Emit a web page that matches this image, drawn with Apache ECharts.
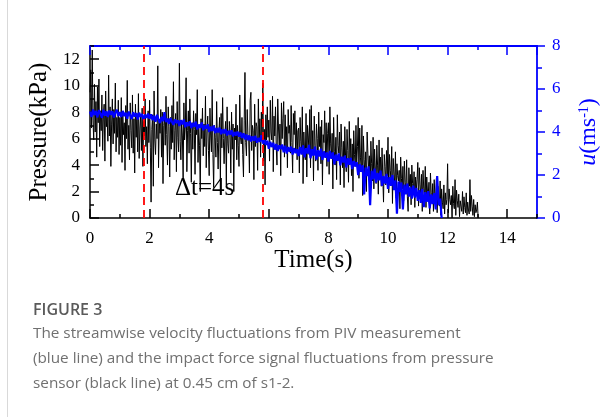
<!DOCTYPE html>
<html>
<head>
<meta charset="utf-8">
<script src="https://cdn.jsdelivr.net/npm/echarts@6/dist/echarts.min.js"></script>
<style>
html,body{margin:0;padding:0;background:#fff;}
#chart{width:614px;height:417px;}
</style>
</head>
<body>
<div id="chart"></div>
<script>
// Sampling intervals (s)
const pressureStep = 0.025;
const velocityStep = 0.05;
// Pressure sensor signal (kPa), black line, from t = 0 s (one row per second)
const pressure = [
  9.5, 11.2, 6.8, 12.7, 7.4, 5.9, 10.1, 6.5, 8.8, 4.6, 9.9, 7.2, 10.5, 5.4, 8.1, 6.6, 9.3, 5.1, 7.8, 8.6, 4.3, 9.6, 6.9, 7.7, 5.8, 10.8, 6.2, 8.4, 3.9, 7.1, 9.0, 5.6, 8.2, 6.4, 10.2, 5.0, 7.6, 6.1, 8.9, 4.8,
  7.6, 5.5, 9.1, 4.2, 8.0, 6.3, 7.2, 3.6, 8.5, 6.0, 10.4, 5.2, 7.0, 4.4, 8.7, 6.6, 5.3, 9.3, 4.9, 7.5, 3.4, 8.6, 6.1, 7.9, 5.0, 9.4, 4.5, 6.8, 7.7, 5.1, 8.3, 3.9, 7.3, 6.2, 9.0, 5.4, 6.9, 4.1, 8.1, 5.7,
  8.9, 5.3, 1.2, 6.7, 7.8, 2.4, 9.6, 5.9, 4.8, 7.1, 6.0, 11.5, 3.8, 7.4, 6.4, 8.2, 4.6, 8.0, 2.6, 7.0, 7.7, 5.5, 9.2, 6.3, 4.0, 8.4, 6.9, 3.1, 7.6, 5.2, 8.5, 5.7, 10.3, 4.4, 6.6, 7.9, 3.5, 8.8, 6.1, 5.0,
  11.7, 5.8, 4.4, 7.4, 6.2, 3.0, 8.7, 5.9, 7.0, 10.6, 3.5, 6.6, 8.1, 4.9, 9.0, 6.4, 2.7, 7.2, 5.2, 8.1, 6.7, 3.3, 7.9, 6.3, 9.7, 4.2, 6.8, 5.5, 2.0, 7.5, 6.0, 8.3, 4.7, 7.1, 5.4, 9.2, 3.8, 6.5, 7.7, 5.1,
  3.2, 8.3, 6.2, 5.0, 9.7, 4.8, 2.3, 7.0, 6.1, 4.6, 8.8, 5.7, 3.7, 6.5, 7.6, 2.8, 7.9, 5.3, 9.1, 6.0, 4.1, 6.2, 7.3, 2.5, 8.4, 5.6, 4.9, 7.3, 6.4, 3.4, 8.0, 5.2, 7.1, 2.0, 6.8, 5.9, 8.6, 4.4, 7.0, 5.5,
  3.9, 9.3, 6.1, 5.6, 7.6, 4.8, 3.1, 7.4, 11.0, 5.7, 4.7, 8.2, 6.3, 6.0, 3.4, 8.9, 9.5, 5.1, 7.0, 6.6, 2.9, 8.6, 5.4, 7.2, 6.9, 3.6, 9.0, 5.8, 7.5, 4.6, 8.0, 6.2, 10.2, 4.3, 6.7, 2.5, 7.8, 5.9, 8.4, 6.1,
  7.4, 4.3, 8.9, 6.5, 5.9, 9.2, 3.5, 7.7, 6.2, 8.4, 5.3, 4.0, 9.0, 6.8, 5.5, 7.1, 3.2, 8.7, 6.0, 7.5, 8.8, 4.6, 7.8, 5.2, 6.9, 3.8, 8.2, 6.4, 7.0, 4.9, 8.5, 5.7, 3.4, 7.9, 6.3, 8.1, 5.0, 7.2, 4.4, 6.6,
  6.8, 3.4, 7.6, 5.8, 4.9, 8.4, 2.6, 6.5, 5.1, 4.4, 7.9, 3.1, 7.0, 6.2, 4.8, 8.2, 3.8, 8.5, 5.2, 6.6, 2.8, 7.7, 5.5, 4.3, 7.1, 6.0, 3.6, 8.0, 5.4, 6.9, 4.1, 7.4, 2.5, 6.3, 5.7, 8.1, 4.6, 7.2, 3.9, 6.4,
  7.2, 3.3, 8.4, 5.6, 4.5, 6.4, 2.2, 7.6, 5.0, 4.0, 6.1, 2.9, 7.8, 5.5, 4.9, 6.5, 2.5, 7.1, 5.3, 3.8, 5.8, 2.3, 6.9, 4.7, 3.5, 6.7, 5.1, 2.7, 7.3, 4.4, 6.0, 3.2, 5.6, 2.0, 6.6, 4.8, 3.9, 7.0, 4.2, 5.4,
  7.6, 3.0, 6.8, 4.6, 3.8, 7.0, 1.7, 6.2, 4.4, 3.3, 5.0, 2.0, 6.5, 4.9, 3.6, 4.7, 1.4, 5.8, 4.1, 2.8, 6.1, 2.2, 5.2, 3.7, 2.6, 5.5, 4.0, 1.8, 5.9, 3.4, 4.6, 2.4, 5.3, 3.1, 1.2, 4.8, 3.9, 2.5, 5.1, 3.2,
  6.1, 1.9, 4.8, 3.6, 3.0, 5.4, 1.1, 4.5, 3.4, 2.5, 5.0, 1.5, 4.1, 3.2, 2.8, 3.6, 0.7, 4.6, 3.0, 2.2, 3.9, 1.3, 4.3, 2.7, 2.0, 4.4, 1.6, 0.5, 3.8, 2.4, 3.3, 1.0, 4.0, 2.6, 1.8, 3.5, 0.8, 3.1, 2.1, 2.9,
  4.2, 0.9, 3.8, 2.5, 1.7, 3.3, 0.5, 3.6, 2.2, 1.4, 3.9, 0.8, 3.1, 2.0, 1.8, 2.7, 0.3, 3.4, 1.9, 1.1, 2.6, 0.5, 2.9, 1.6, 1.3, 3.0, 0.4, 2.4, 1.5, 0.9, 2.8, 0.2, 2.2, 1.2, 0.7, 2.5, 0.3, 1.9, 1.0, 1.4,
  4.1, 0.4, 2.2, 1.4, 1.0, 1.7, 0.0, 2.4, 1.1, 0.7, 2.9, 0.2, 2.1, 1.3, 0.8, 1.8, 0.1, 1.3, 0.9, 0.5, 2.0, 0.3, 1.6, 0.8, 0.4, 1.9, 0.2, 1.2, 0.6, 0.3, 2.9, 0.5, 1.7, 0.9, 0.2, 1.4, 0.1, 1.0, 0.4, 0.6,
  1.2, 0.0
];
// PIV streamwise velocity (m/s), blue line, from t = 0 s (one row per second)
const velocity = [
  4.95, 4.7, 5.05, 4.78, 4.98, 4.68, 5.02, 4.85, 4.66, 5.04, 4.76, 4.96, 4.7, 5.0, 4.8, 4.97, 4.68, 4.9, 5.03, 4.74,
  4.93, 4.7, 4.98, 4.74, 4.9, 4.62, 4.95, 4.78, 4.6, 4.92, 4.72, 4.88, 4.58, 4.9, 4.7, 4.84, 4.56, 4.8, 4.66, 4.86,
  4.62, 4.82, 4.55, 4.76, 4.48, 4.8, 4.58, 4.42, 4.7, 4.5, 4.92, 4.46, 4.62, 4.38, 4.64, 4.48, 4.33, 4.58, 4.42, 4.55,
  4.28, 4.55, 4.35, 4.58, 4.22, 4.45, 4.28, 4.5, 4.18, 4.42, 4.25, 4.48, 4.12, 4.35, 4.2, 4.44, 4.08, 4.3, 4.16, 4.36,
  4.0, 4.25, 4.05, 4.3, 3.95, 4.18, 3.98, 4.2, 3.9, 4.12, 3.94, 4.14, 3.84, 4.06, 3.88, 4.08, 3.8, 4.0, 3.84, 4.02,
  3.78, 3.98, 3.72, 3.94, 3.66, 3.88, 3.62, 3.84, 3.56, 3.8, 3.6, 3.82, 3.5, 3.72, 3.54, 3.85, 3.46, 3.64, 3.4, 3.6,
  3.22, 3.55, 3.3, 3.5, 3.18, 3.44, 3.12, 3.38, 3.2, 3.42, 3.06, 3.36, 3.0, 3.3, 3.08, 3.32, 2.95, 3.25, 3.02, 3.2,
  2.88, 3.3, 2.95, 3.38, 2.82, 3.25, 3.0, 3.4, 2.78, 3.2, 2.9, 3.32, 2.72, 3.15, 2.86, 3.22, 2.7, 3.1, 2.8, 3.05,
  2.62, 3.12, 2.75, 3.05, 2.5, 2.95, 2.66, 3.0, 2.45, 2.85, 2.58, 2.9, 2.35, 2.78, 2.48, 2.8, 2.28, 2.65, 2.4, 2.6,
  2.0, 2.5, 2.15, 2.45, 1.1, 2.35, 1.95, 2.4, 0.6, 2.2, 1.8, 2.3, 1.65, 2.1, 1.75, 2.2, 1.5, 1.95, 1.6, 2.05,
  1.35, 1.9, 1.5, 2.0, 1.3, 1.75, 0.2, 1.7, 1.2, 1.65, 0.4, 1.55, 1.1, 1.6, 1.0, 1.45, 0.9, 1.5, 0.95, 1.4,
  0.8, 1.3, 0.7, 1.35, 0.5, 1.2, 0.75, 1.25, 0.45, 1.1, 0.65, 1.15, 0.4, 1.95, 0.6, 0.9, 0.0
];
// Times of the two red dashed markers (s)
const markerTimes = [1.8, 5.8];
const markerText = 'Δt=4s';
const xTicks = { min: 0, max: 15, major: 2, minor: 1 };
const leftTicks = { min: 0, max: 13, major: 2, minor: 1 };
const rightTicks = { min: 0, max: 8, major: 2 };
const captionTitle = 'FIGURE 3';
const captionLines = [
  'The streamwise velocity fluctuations from PIV measurement',
  '(blue line) and the impact force signal fluctuations from pressure',
  'sensor (black line) at 0.45 cm of s1-2.'
];

const serif = '"Liberation Serif", "Times New Roman", serif';
const BLUE = '#0000ff';
const pressureData = pressure.map((v, i) => [+(i * pressureStep).toFixed(3), v]);
const velocityData = velocity.map((v, i) => [+(i * velocityStep).toFixed(3), v]);

const chart = echarts.init(document.getElementById('chart'), null, { renderer: 'canvas' });

const baseX = { type: 'value', min: xTicks.min, max: xTicks.max, splitLine: { show: false } };
const baseYL = { type: 'value', min: leftTicks.min, max: leftTicks.max, splitLine: { show: false } };

chart.setOption({
  animation: false,
  backgroundColor: '#fff',
  grid: { left: 90, right: 77, top: 46, bottom: 199, containLabel: false },
  xAxis: [
    Object.assign({}, baseX, {
      position: 'bottom', interval: xTicks.major,
      axisLine: { show: true, onZero: false, lineStyle: { color: '#000', width: 1.5 } },
      axisTick: { show: true, inside: true, length: 9, lineStyle: { color: '#000', width: 1.5 } },
      axisLabel: { show: true, margin: 12, color: '#000', fontFamily: serif, fontSize: 17, showMaxLabel: false },
      name: 'Time(s)', nameLocation: 'middle', nameGap: 30,
      nameTextStyle: { color: '#000', fontFamily: serif, fontSize: 25 }
    }),
    Object.assign({}, baseX, {
      position: 'bottom', interval: xTicks.minor,
      axisLine: { show: false, onZero: false },
      axisTick: { show: true, inside: true, length: 4, lineStyle: { color: '#000', width: 1.5 } },
      axisLabel: { show: false }
    }),
    Object.assign({}, baseX, {
      position: 'top', interval: xTicks.major,
      axisLine: { show: true, onZero: false, lineStyle: { color: BLUE, width: 1.8 } },
      axisTick: { show: true, inside: true, length: 9, lineStyle: { color: BLUE, width: 1.5 } },
      axisLabel: { show: false }
    }),
    Object.assign({}, baseX, {
      position: 'top', interval: xTicks.minor,
      axisLine: { show: false, onZero: false },
      axisTick: { show: true, inside: true, length: 4, lineStyle: { color: BLUE, width: 1.5 } },
      axisLabel: { show: false }
    })
  ],
  yAxis: [
    Object.assign({}, baseYL, {
      position: 'left', interval: leftTicks.major,
      axisLine: { show: true, onZero: false, lineStyle: { color: '#000', width: 1.5 } },
      axisTick: { show: true, inside: true, length: 9, lineStyle: { color: '#000', width: 1.5 } },
      axisLabel: { show: true, margin: 10, color: '#000', fontFamily: serif, fontSize: 17, showMaxLabel: false },
      name: 'Pressure(kPa)', nameLocation: 'middle', nameGap: 36, nameRotate: 90,
      nameTextStyle: { color: '#000', fontFamily: serif, fontSize: 25 }
    }),
    Object.assign({}, baseYL, {
      position: 'left', interval: leftTicks.minor,
      axisLine: { show: false, onZero: false },
      axisTick: { show: true, inside: true, length: 4, lineStyle: { color: '#000', width: 1.5 } },
      axisLabel: { show: false }
    }),
    {
      type: 'value', position: 'right', min: rightTicks.min, max: rightTicks.max, interval: rightTicks.major,
      splitLine: { show: false },
      axisLine: { show: true, onZero: false, lineStyle: { color: BLUE, width: 1.8 } },
      axisTick: { show: true, inside: false, length: 8, lineStyle: { color: BLUE, width: 1.5 } },
      minorTick: { show: true, splitNumber: 2, length: 5, lineStyle: { color: BLUE, width: 1.5 } },
      axisLabel: { show: true, margin: 15, color: BLUE, fontFamily: serif, fontSize: 17 },
      name: '{i|u}(ms{s|-1})', nameLocation: 'middle', nameGap: 40, nameRotate: 90,
      nameTextStyle: {
        color: BLUE, fontFamily: serif, fontSize: 24,
        rich: {
          i: { color: BLUE, fontFamily: serif, fontSize: 24, fontStyle: 'italic' },
          s: { color: BLUE, fontFamily: serif, fontSize: 14, verticalAlign: 'top', padding: [0, 0, 10, 0] }
        }
      }
    }
  ],
  series: [
    {
      name: 'Pressure', type: 'line', xAxisIndex: 0, yAxisIndex: 0,
      data: pressureData, showSymbol: false, symbol: 'none',
      lineStyle: { color: '#000', width: 1 }, z: 2,
      markLine: {
        silent: true, symbol: 'none', label: { show: false },
        lineStyle: { color: '#ff0000', type: [8, 5], width: 1.8 },
        data: markerTimes.map(t => ({ xAxis: t }))
      }
    },
    {
      name: 'Velocity', type: 'line', xAxisIndex: 0, yAxisIndex: 2,
      data: velocityData, showSymbol: false, symbol: 'none',
      lineStyle: { color: BLUE, width: 2.2 }, z: 3
    }
  ],
  graphic: [
    { type: 'rect', left: 7, top: 0, shape: { width: 1, height: 417 }, style: { fill: '#d9d9d9' } },
    { type: 'text', left: 175, top: 176, z: 10,
      style: { text: markerText, fontFamily: serif, fontSize: 25, fill: '#000' } },
    { type: 'text', left: 33, top: 302,
      style: { text: captionTitle, fontFamily: '"Open Sans", sans-serif', fontSize: 16, fontWeight: 600, fill: '#5a5a5a' } },
    { type: 'text', left: 33, top: 321,
      style: { text: captionLines.join('\n'), fontFamily: '"Open Sans", sans-serif', fontSize: 15.3, lineHeight: 25, fill: '#707070' } }
  ]
});
</script>
</body>
</html>
